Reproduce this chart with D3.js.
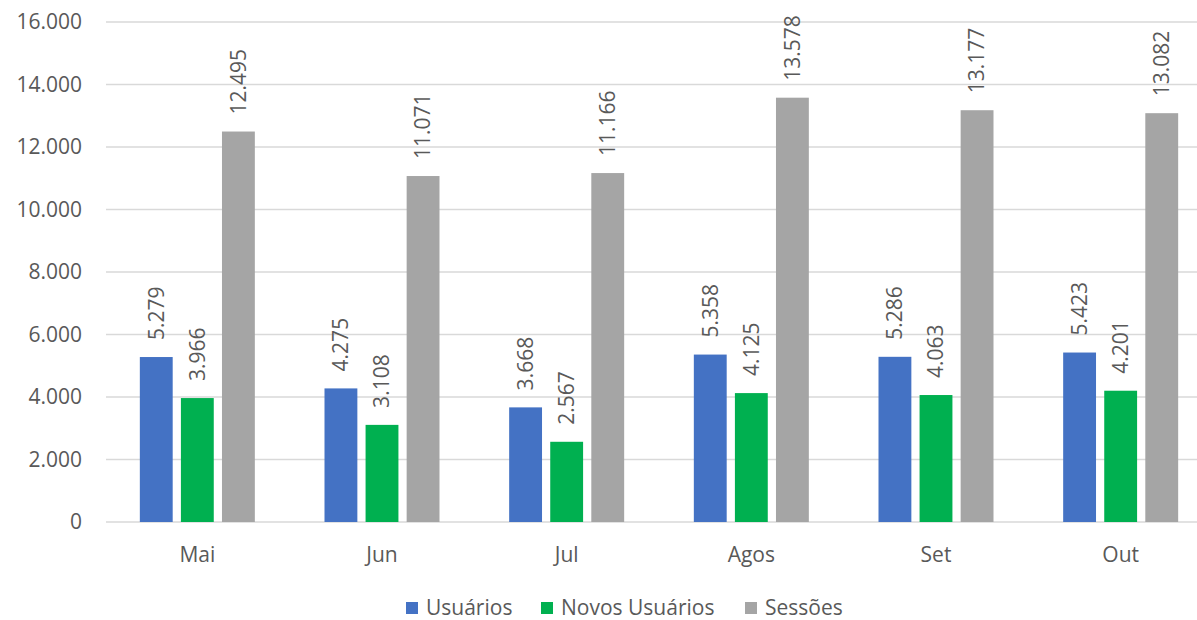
<!DOCTYPE html>
<html>
<head>
<meta charset="utf-8">
<script src="https://cdn.jsdelivr.net/npm/d3@7"></script>
<style>
  body { margin: 0; background: #fff; }
  svg text { font-family: "Open Sans", "Noto Sans", sans-serif; fill: #595959; }
</style>
</head>
<body>
<div id="chart"></div>
<script>
// dados do gráfico
const meses = ['Mai', 'Jun', 'Jul', 'Agos', 'Set', 'Out'];
const series = ['Usuários', 'Novos Usuários', 'Sessões'];
const usuarios = [5279, 4275, 3668, 5358, 5286, 5423];
const novosUsuarios = [3966, 3108, 2567, 4125, 4063, 4201];
const sessoes = [12495, 11071, 11166, 13578, 13177, 13082];
const yTicks = [0, 2000, 4000, 6000, 8000, 10000, 12000, 14000, 16000];
const cores = ['#4472C4', '#00B050', '#A5A5A5'];

const valores = [usuarios, novosUsuarios, sessoes];
const width = 1197, height = 620;

const svg = d3.select('#chart').append('svg')
    .attr('width', width)
    .attr('height', height);

// escalas
const x0 = d3.scaleBand().domain(meses).range([105, 1213]).padding(0);
const groupW = 115;
const x1 = d3.scaleBand().domain(series).range([0, groupW]).paddingInner(0.2);
const y = d3.scaleLinear().domain([0, 16000]).range([522, 22]);

const fmt = v => d3.format(',')(v).replace(/,/g, '.');

// linhas de grade
svg.append('g').selectAll('line')
    .data(yTicks)
    .join('line')
    .attr('x1', 106).attr('x2', width)
    .attr('y1', d => y(d)).attr('y2', d => y(d))
    .style('stroke', '#D9D9D9')
    .style('stroke-width', 1.5);

// rótulos do eixo y
svg.append('g').selectAll('text')
    .data(yTicks)
    .join('text')
    .attr('x', 82)
    .attr('y', d => y(d))
    .attr('dy', '0.35em')
    .attr('text-anchor', 'end')
    .style('font-size', '21px')
    .text(d => fmt(d));

// barras
const grupos = svg.append('g').selectAll('g')
    .data(meses)
    .join('g')
    .attr('transform', d => `translate(${x0(d) + (x0.bandwidth() - groupW) / 2},0)`);

grupos.selectAll('rect')
    .data((d, i) => series.map((s, j) => ({ s, j, v: valores[j][i] })))
    .join('rect')
    .attr('x', d => x1(d.s))
    .attr('width', x1.bandwidth())
    .attr('y', d => y(d.v))
    .attr('height', d => y(0) - y(d.v))
    .style('fill', d => cores[d.j]);

// rótulos de dados (verticais)
grupos.selectAll('text.val')
    .data((d, i) => series.map((s, j) => ({ s, j, v: valores[j][i] })))
    .join('text')
    .attr('class', 'val')
    .attr('transform', d => `translate(${x1(d.s) + x1.bandwidth() / 2},${y(d.v) - 17}) rotate(-90)`)
    .attr('dy', '0.35em')
    .attr('text-anchor', 'start')
    .style('font-size', '21px')
    .text(d => fmt(d.v));

// rótulos das categorias
svg.append('g').selectAll('text')
    .data(meses)
    .join('text')
    .attr('x', d => x0(d) + x0.bandwidth() / 2)
    .attr('y', 555)
    .attr('dy', '0.35em')
    .attr('text-anchor', 'middle')
    .style('font-size', '21px')
    .text(d => d);

// legenda
const legX = [406, 541, 745];
const leg = svg.append('g').selectAll('g')
    .data(series)
    .join('g')
    .attr('transform', (d, i) => `translate(${legX[i]},608)`);
leg.append('rect')
    .attr('x', 0).attr('y', -6)
    .attr('width', 12).attr('height', 12)
    .style('fill', (d, i) => cores[i]);
leg.append('text')
    .attr('x', 20)
    .attr('dy', '0.35em')
    .style('font-size', '21px')
    .text(d => d);
</script>
</body>
</html>
